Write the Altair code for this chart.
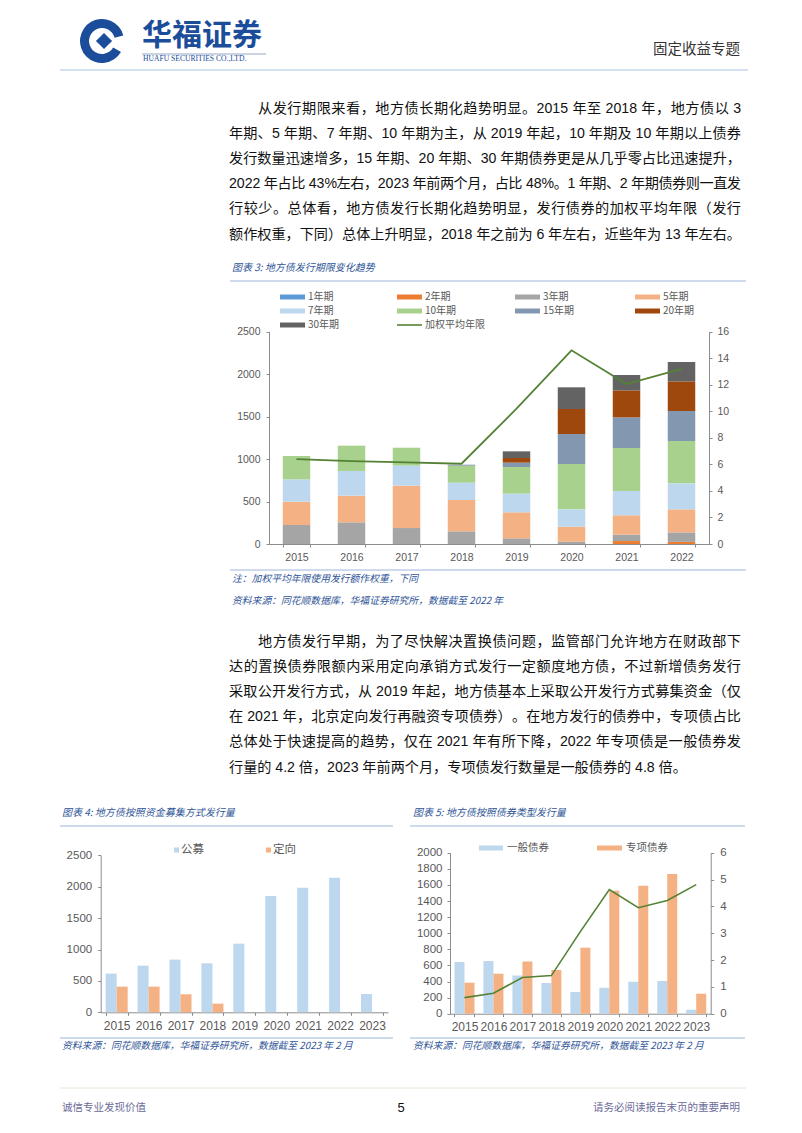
import altair as alt
import pandas as pd

M = 8
W, H = 786, 1112


def P(v):
    return v - M


FONT_CJK = "Noto Sans CJK SC"
FONT_NUM = "Liberation Sans"
TITLE_BLUE = "#2F5597"
LINE_BLUE = "#9DB4DA"
AXIS_GRAY = "#595959"
DOMAIN_GRAY = "#8C8C8C"

# ---------------- data: chart 3 (issuance by term) ----------------
years3 = ["2015", "2016", "2017", "2018", "2019", "2020", "2021", "2022"]
terms = ["1年期", "2年期", "3年期", "5年期", "7年期", "10年期", "15年期", "20年期", "30年期"]
term_colors = ["#5B9BD5", "#ED7D31", "#A5A5A5", "#F4B183", "#BDD7EE",
               "#A9D18E", "#8497B0", "#9E480E", "#636363"]
v_1y = [0, 0, 0, 0, 0, 0, 0, 0]
v_2y = [0, 0, 0, 0, 0, 0, 35, 25]
v_3y = [224, 255, 188, 149, 67, 27, 75, 112]
v_5y = [274, 314, 499, 369, 306, 177, 228, 271]
v_7y = [263, 291, 235, 204, 220, 204, 286, 306]
v_10y = [275, 298, 212, 200, 314, 534, 506, 499]
v_15y = [0, 0, 0, 12, 51, 353, 361, 353]
v_20y = [0, 0, 0, 0, 55, 295, 318, 349]
v_30y = [0, 0, 0, 0, 78, 255, 181, 228]
avg_term = [6.4, 6.25, 6.15, 6.05, 10.2, 14.6, 12.05, 13.2]
avg_label = "加权平均年限"

# ---------------- data: chart 4 (public vs private placement) ----------------
years9 = ["2015", "2016", "2017", "2018", "2019", "2020", "2021", "2022", "2023"]
mode_names = ["公募", "定向"]
mode_colors = ["#BDD7EE", "#F4B183"]
v_public = [616, 743, 839, 780, 1093, 1852, 1985, 2144, 292]
v_private = [409, 409, 287, 138, 0, 0, 0, 0, 0]

# ---------------- data: chart 5 (general vs special bonds) ----------------
type_names = ["一般债券", "专项债券"]
type_colors = ["#BDD7EE", "#F4B183"]
v_general = [642, 654, 476, 381, 269, 323, 398, 406, 50]
v_special = [385, 497, 650, 542, 820, 1528, 1590, 1735, 248]
v_ratio = [0.60, 0.76, 1.35, 1.42, 3.06, 4.63, 3.95, 4.22, 4.81]

# ---------------- text ----------------
header_brand = "华福证券"
header_brand_en = "HUAFU SECURITIES CO.,LTD."
header_right = "固定收益专题"
para1 = [
    "从发行期限来看，地方债长期化趋势明显。2015 年至 2018 年，地方债以 3",
    "年期、5 年期、7 年期、10 年期为主，从 2019 年起，10 年期及 10 年期以上债券",
    "发行数量迅速增多，15 年期、20 年期、30 年期债券更是从几乎零占比迅速提升，",
    "2022 年占比 43%左右，2023 年前两个月，占比 48%。1 年期、2 年期债券则一直发",
    "行较少。总体看，地方债发行长期化趋势明显，发行债券的加权平均年限（发行",
    "额作权重，下同）总体上升明显，2018 年之前为 6 年左右，近些年为 13 年左右。",
]
para2 = [
    "地方债发行早期，为了尽快解决置换债问题，监管部门允许地方在财政部下",
    "达的置换债券限额内采用定向承销方式发行一定额度地方债，不过新增债务发行",
    "采取公开发行方式，从 2019 年起，地方债基本上采取公开发行方式募集资金（仅",
    "在 2021 年，北京定向发行再融资专项债券）。在地方发行的债券中，专项债占比",
    "总体处于快速提高的趋势，仅在 2021 年有所下降，2022 年专项债是一般债券发",
    "行量的 4.2 倍，2023 年前两个月，专项债发行数量是一般债券的 4.8 倍。",
]
title3 = "图表 3:  地方债发行期限变化趋势"
note3 = "注：加权平均年限使用发行额作权重，下同"
source3 = "资料来源：同花顺数据库，华福证券研究所，数据截至 2022 年"
title4 = "图表 4:  地方债按照资金募集方式发行量"
title5 = "图表 5:  地方债按照债券类型发行量"
source45 = "资料来源：同花顺数据库，华福证券研究所，数据截至 2023 年 2 月"
footer_left = "诚信专业发现价值"
footer_mid = "5"
footer_right = "请务必阅读报告末页的重要声明"

layers = []


def text_layer(rows, **mk):
    df = pd.DataFrame(rows, columns=["x", "y", "text"])
    df["x"] = df["x"].map(P)
    df["y"] = df["y"].map(P)
    return alt.Chart(df).mark_text(**mk).encode(
        x=alt.X("x:Q", scale=None, axis=None),
        y=alt.Y("y:Q", scale=None, axis=None),
        text="text:N",
    )


def rule_layer(rows, color, width=1.0):
    df = pd.DataFrame(rows, columns=["x", "y", "x2", "y2"])
    for c in df.columns:
        df[c] = df[c].map(P)
    return alt.Chart(df).mark_rule(color=color, strokeWidth=width).encode(
        x=alt.X("x:Q", scale=None, axis=None),
        x2="x2:Q",
        y=alt.Y("y:Q", scale=None, axis=None),
        y2="y2:Q",
    )


def rect_layer(rows):
    df = pd.DataFrame(rows, columns=["x", "y", "x2", "y2", "c"])
    for c in ["x", "y", "x2", "y2"]:
        df[c] = df[c].map(P)
    return alt.Chart(df).mark_rect().encode(
        x=alt.X("x:Q", scale=None, axis=None),
        x2="x2:Q",
        y=alt.Y("y:Q", scale=None, axis=None),
        y2="y2:Q",
        color=alt.Color("c:N", scale=None, legend=None),
    )


# ---------------- justified paragraph layout ----------------
FS = 14.15
LATIN_W = {"0": .556, "1": .556, "2": .556, "3": .556, "4": .556, "5": .556,
           "6": .556, "7": .556, "8": .556, "9": .556, "%": .889, ".": .278}
SPACE_W = 0.27


def latin_width(s):
    return sum(LATIN_W.get(c, .556) for c in s) * FS


def tokenize(line):
    toks = []  # (text, width, is_latin, space_before)
    buf = ""
    pending_space = 0.0
    for ch in line:
        if ch == " ":
            if buf:
                toks.append([buf, latin_width(buf), True, pending_space])
                buf = ""
                pending_space = 0.0
            pending_space += SPACE_W * FS
        elif ord(ch) < 128:
            buf += ch
        else:
            if buf:
                toks.append([buf, latin_width(buf), True, pending_space])
                buf = ""
                pending_space = 0.0
            toks.append([ch, FS, False, pending_space])
            pending_space = 0.0
    if buf:
        toks.append([buf, latin_width(buf), True, pending_space])
    return toks


def layout_para(lines, x_left, x_right, y0, lh, indent):
    cjk_rows, lat_rows = [], []
    for i, line in enumerate(lines):
        start = x_left + (indent if i == 0 else 0)
        toks = tokenize(line)
        natural = sum(t[1] + t[3] for t in toks)
        gaps = len(toks) - 1
        last = i == len(lines) - 1
        avail = x_right - start
        if gaps <= 0 or (last and natural <= avail):
            extra = 0.0
        else:
            extra = (avail - natural) / gaps
        x = start
        y = y0 + i * lh
        for txt, w, is_lat, sp in toks:
            x += sp
            (lat_rows if is_lat else cjk_rows).append((x, y, txt))
            x += w + extra
    return cjk_rows, lat_rows


# ---------------- header ----------------
LOGO_BLUE = "#1B4D9B"
layers.append(
    alt.Chart(pd.DataFrame({"k": [0]})).mark_arc(
        theta=2.1, theta2=7.6, radius=22, radius2=13, color=LOGO_BLUE
    ).encode(x=alt.value(P(102)), y=alt.value(P(41)))
)
layers.append(
    alt.Chart(pd.DataFrame({"k": [0]})).mark_point(
        shape="diamond", filled=True, size=260, color=LOGO_BLUE, opacity=1
    ).encode(x=alt.value(P(104)), y=alt.value(P(41)))
)
layers.append(text_layer([(142, 36, header_brand)], font=FONT_CJK, fontSize=30,
                         fontWeight="bold", color=LOGO_BLUE, align="left", baseline="middle"))
layers.append(rule_layer([(142, 54, 266, 54)], "#7F8FB8", 0.8))
layers.append(text_layer([(143, 59, header_brand_en)], font="Liberation Serif", fontSize=7.6,
                         color=LOGO_BLUE, align="left", baseline="middle"))
layers.append(text_layer([(740, 50, header_right)], font=FONT_CJK, fontSize=14.5,
                         color="#333333", align="right", baseline="middle"))
layers.append(rule_layer([(60, 70, 748, 70)], "#A9C4E4", 1.2))

# ---------------- paragraphs ----------------
LH = 25.1
c1, l1 = layout_para(para1, 229, 741, 109, LH, 29)
c2, l2 = layout_para(para2, 229, 741, 642, LH, 29)
layers.append(text_layer(c1 + c2, font=FONT_CJK, fontSize=FS, color="#111111",
                         align="left", baseline="middle"))
layers.append(text_layer(l1 + l2, font=FONT_NUM, fontSize=FS, color="#111111",
                         align="left", baseline="middle"))

# ---------------- chart 3 frame texts ----------------
layers.append(rule_layer([(230, 281, 746, 281), (230, 570, 746, 570)], LINE_BLUE, 1))
layers.append(text_layer([(232, 268, title3)], font=FONT_CJK, fontSize=10, fontStyle="italic",
                         color=TITLE_BLUE, align="left", baseline="middle"))
layers.append(text_layer([(232, 579, note3), (232, 601, source3)], font=FONT_CJK, fontSize=9.8,
                         fontStyle="italic", color=TITLE_BLUE, align="left", baseline="middle"))

# legend for chart 3
leg_cols = [280, 397, 515, 635]
leg_rows = [297, 311, 325]
sw_rows = []
lt_rows = []
for i, (t, c) in enumerate(zip(terms, term_colors)):
    cx = leg_cols[i % 4]
    cy = leg_rows[i // 4]
    sw_rows.append((cx, cy - 2.5, cx + 25, cy + 2.5, c))
    lt_rows.append((cx + 28, cy, t))
layers.append(rect_layer(sw_rows))
layers.append(rule_layer([(leg_cols[1], leg_rows[2], leg_cols[1] + 25, leg_rows[2])], "#548235", 1.6))
lt_rows.append((leg_cols[1] + 28, leg_rows[2], avg_label))
layers.append(text_layer(lt_rows, font=FONT_CJK, fontSize=10, color=AXIS_GRAY,
                         align="left", baseline="middle"))

# ---------------- chart 3 bars ----------------
series3 = [v_1y, v_2y, v_3y, v_5y, v_7y, v_10y, v_15y, v_20y, v_30y]
recs = []
for k, (t, vals) in enumerate(zip(terms, series3)):
    for y, v in zip(years3, vals):
        if v > 0:
            recs.append({"yr3": y, "term": t, "v3": v, "ord": k})
df3 = pd.DataFrame(recs)
X3 = [P(269), P(709)]
Y3 = [P(544), P(331.7)]
bars3 = alt.Chart(df3).mark_bar().encode(
    x=alt.X("yr3:N", scale=alt.Scale(domain=years3, range=X3, paddingInner=0.5, paddingOuter=0.25),
            axis=alt.Axis(orient="bottom", offset=P(544) - H, title=None, labelAngle=0,
                          labelFont=FONT_NUM, labelFontSize=10.5, labelColor=AXIS_GRAY,
                          labelPadding=5, domainColor=DOMAIN_GRAY, tickColor=DOMAIN_GRAY,
                          tickBand="extent", tickSize=3)),
    y=alt.Y("v3:Q", stack="zero",
            scale=alt.Scale(domain=[0, 2500], range=Y3, nice=False, zero=True),
            axis=alt.Axis(orient="left", offset=-P(269), title=None, grid=False, format="d",
                          values=[0, 500, 1000, 1500, 2000, 2500],
                          labelFont=FONT_NUM, labelFontSize=10.5, labelColor=AXIS_GRAY,
                          domainColor=DOMAIN_GRAY, tickColor=DOMAIN_GRAY, tickSize=3,
                          labelPadding=6)),
    color=alt.Color("term:N", scale=alt.Scale(domain=terms, range=term_colors), legend=None),
    order=alt.Order("ord:Q"),
)
layers.append(bars3)

df3l = pd.DataFrame({"yr3l": years3, "avg": avg_term})
line3 = alt.Chart(df3l).mark_line(color="#548235", strokeWidth=1.8).encode(
    x=alt.X("yr3l:N", scale=alt.Scale(type="point", domain=years3, range=X3, padding=0.5), axis=None),
    y=alt.Y("avg:Q", scale=alt.Scale(domain=[0, 16], range=Y3, nice=False),
            axis=alt.Axis(orient="right", offset=P(709) - W, title=None, grid=False, format="d",
                          values=list(range(0, 17, 2)),
                          labelFont=FONT_NUM, labelFontSize=10.5, labelColor=AXIS_GRAY,
                          domainColor=DOMAIN_GRAY, tickColor=DOMAIN_GRAY, tickSize=3,
                          labelPadding=5)),
)
layers.append(line3)

# ---------------- chart 4 / 5 frame texts ----------------
layers.append(rule_layer([(60, 826, 393, 826), (60, 1038, 393, 1038),
                          (410, 826, 745, 826), (410, 1038, 745, 1038)], LINE_BLUE, 1))
layers.append(text_layer([(62, 813, title4), (413, 813, title5)], font=FONT_CJK, fontSize=10,
                         fontStyle="italic", color=TITLE_BLUE, align="left", baseline="middle"))
layers.append(text_layer([(62, 1046, source45), (413, 1046, source45)], font=FONT_CJK, fontSize=9.8,
                         fontStyle="italic", color=TITLE_BLUE, align="left", baseline="middle"))

# legend chart 4
layers.append(rect_layer([(174, 847.5, 179, 852.5, mode_colors[0]), (266, 847.5, 271, 852.5, mode_colors[1])]))
layers.append(text_layer([(181, 850, mode_names[0]), (273, 850, mode_names[1])], font=FONT_CJK,
                         fontSize=11.5, color=AXIS_GRAY, align="left", baseline="middle"))
# legend chart 5
layers.append(rect_layer([(479, 845.5, 503, 850.5, type_colors[0]), (597, 845.5, 622, 850.5, type_colors[1])]))
layers.append(text_layer([(507, 848, type_names[0]), (626, 848, type_names[1])], font=FONT_CJK,
                         fontSize=10.5, color=AXIS_GRAY, align="left", baseline="middle"))

# ---------------- chart 4 bars ----------------
recs = []
for nm, vals in zip(mode_names, [v_public, v_private]):
    for y, v in zip(years9, vals):
        if v > 0:
            recs.append({"yr4": y, "mode": nm, "v4": v})
df4 = pd.DataFrame(recs)
X4 = [P(100.7), P(388)]
Y4 = [P(1012.3), P(855.3)]
bars4 = alt.Chart(df4).mark_bar().encode(
    x=alt.X("yr4:N", scale=alt.Scale(domain=years9, range=X4, paddingInner=0.31, paddingOuter=0.155),
            axis=alt.Axis(orient="bottom", offset=P(1012.3) - H, title=None, labelAngle=0,
                          labelFont=FONT_NUM, labelFontSize=12, labelColor=AXIS_GRAY,
                          labelPadding=5, domainColor=DOMAIN_GRAY, tickColor=DOMAIN_GRAY,
                          tickBand="extent", tickSize=3)),
    xOffset=alt.XOffset("mode:N", scale=alt.Scale(domain=mode_names, paddingInner=0, paddingOuter=0)),
    y=alt.Y("v4:Q", scale=alt.Scale(domain=[0, 2500], range=Y4, nice=False),
            axis=alt.Axis(orient="left", offset=-P(100.7), title=None, grid=False, format="d",
                          values=[0, 500, 1000, 1500, 2000, 2500],
                          labelFont=FONT_NUM, labelFontSize=11.5, labelColor=AXIS_GRAY,
                          domainColor=DOMAIN_GRAY, tickColor=DOMAIN_GRAY, tickSize=3,
                          labelPadding=6)),
    color=alt.Color("mode:N", scale=alt.Scale(domain=mode_names, range=mode_colors), legend=None),
)
layers.append(bars4)

# ---------------- chart 5 bars + line ----------------
recs = []
for nm, vals in zip(type_names, [v_general, v_special]):
    for y, v in zip(years9, vals):
        recs.append({"yr5": y, "btype": nm, "v5": v})
df5 = pd.DataFrame(recs)
X5 = [P(450), P(710.7)]
Y5 = [P(1013.7), P(852.7)]
bars5 = alt.Chart(df5).mark_bar().encode(
    x=alt.X("yr5:N", scale=alt.Scale(domain=years9, range=X5, paddingInner=0.31, paddingOuter=0.155),
            axis=alt.Axis(orient="bottom", offset=P(1013.7) - H, title=None, labelAngle=0,
                          labelFont=FONT_NUM, labelFontSize=12, labelColor=AXIS_GRAY,
                          labelPadding=5, domainColor=DOMAIN_GRAY, tickColor=DOMAIN_GRAY,
                          tickBand="extent", tickSize=3)),
    xOffset=alt.XOffset("btype:N", scale=alt.Scale(domain=type_names, paddingInner=0, paddingOuter=0)),
    y=alt.Y("v5:Q", scale=alt.Scale(domain=[0, 2000], range=Y5, nice=False),
            axis=alt.Axis(orient="left", offset=-P(450), title=None, grid=False, format="d",
                          values=list(range(0, 2001, 200)),
                          labelFont=FONT_NUM, labelFontSize=11.5, labelColor=AXIS_GRAY,
                          domainColor=DOMAIN_GRAY, tickColor=DOMAIN_GRAY, tickSize=3,
                          labelPadding=5)),
    color=alt.Color("btype:N", scale=alt.Scale(domain=type_names, range=type_colors), legend=None),
)
layers.append(bars5)

df5l = pd.DataFrame({"yr5l": years9, "ratio": v_ratio})
line5 = alt.Chart(df5l).mark_line(color="#548235", strokeWidth=1.6).encode(
    x=alt.X("yr5l:N", scale=alt.Scale(type="point", domain=years9, range=X5, padding=0.5), axis=None),
    y=alt.Y("ratio:Q", scale=alt.Scale(domain=[0, 6], range=Y5, nice=False),
            axis=alt.Axis(orient="right", offset=P(710.7) - W, title=None, grid=False, format="d",
                          values=list(range(0, 7)),
                          labelFont=FONT_NUM, labelFontSize=11.5, labelColor=AXIS_GRAY,
                          domainColor=DOMAIN_GRAY, tickColor=DOMAIN_GRAY, tickSize=3,
                          labelPadding=6)),
)
layers.append(line5)

# ---------------- footer ----------------
layers.append(rule_layer([(60, 1088, 746, 1088)], "#E6E6D8", 1))
layers.append(text_layer([(62, 1108, footer_left)], font=FONT_CJK, fontSize=10.5,
                         color="#6B6B9A", align="left", baseline="middle"))
layers.append(text_layer([(740, 1108, footer_right)], font=FONT_CJK, fontSize=10.5,
                         color="#6B6B9A", align="right", baseline="middle"))
layers.append(text_layer([(401, 1108, footer_mid)], font=FONT_NUM, fontSize=13,
                         color="#111111", align="center", baseline="middle"))

chart = alt.layer(*layers).resolve_scale(
    x="independent", y="independent", color="independent", xOffset="independent"
).properties(
    width=W, height=H, padding=0, autosize=alt.AutoSizeParams(type="none")
).configure_view(stroke=None)

chart.save("out.html", embed_options={"renderer": "svg", "actions": False})
